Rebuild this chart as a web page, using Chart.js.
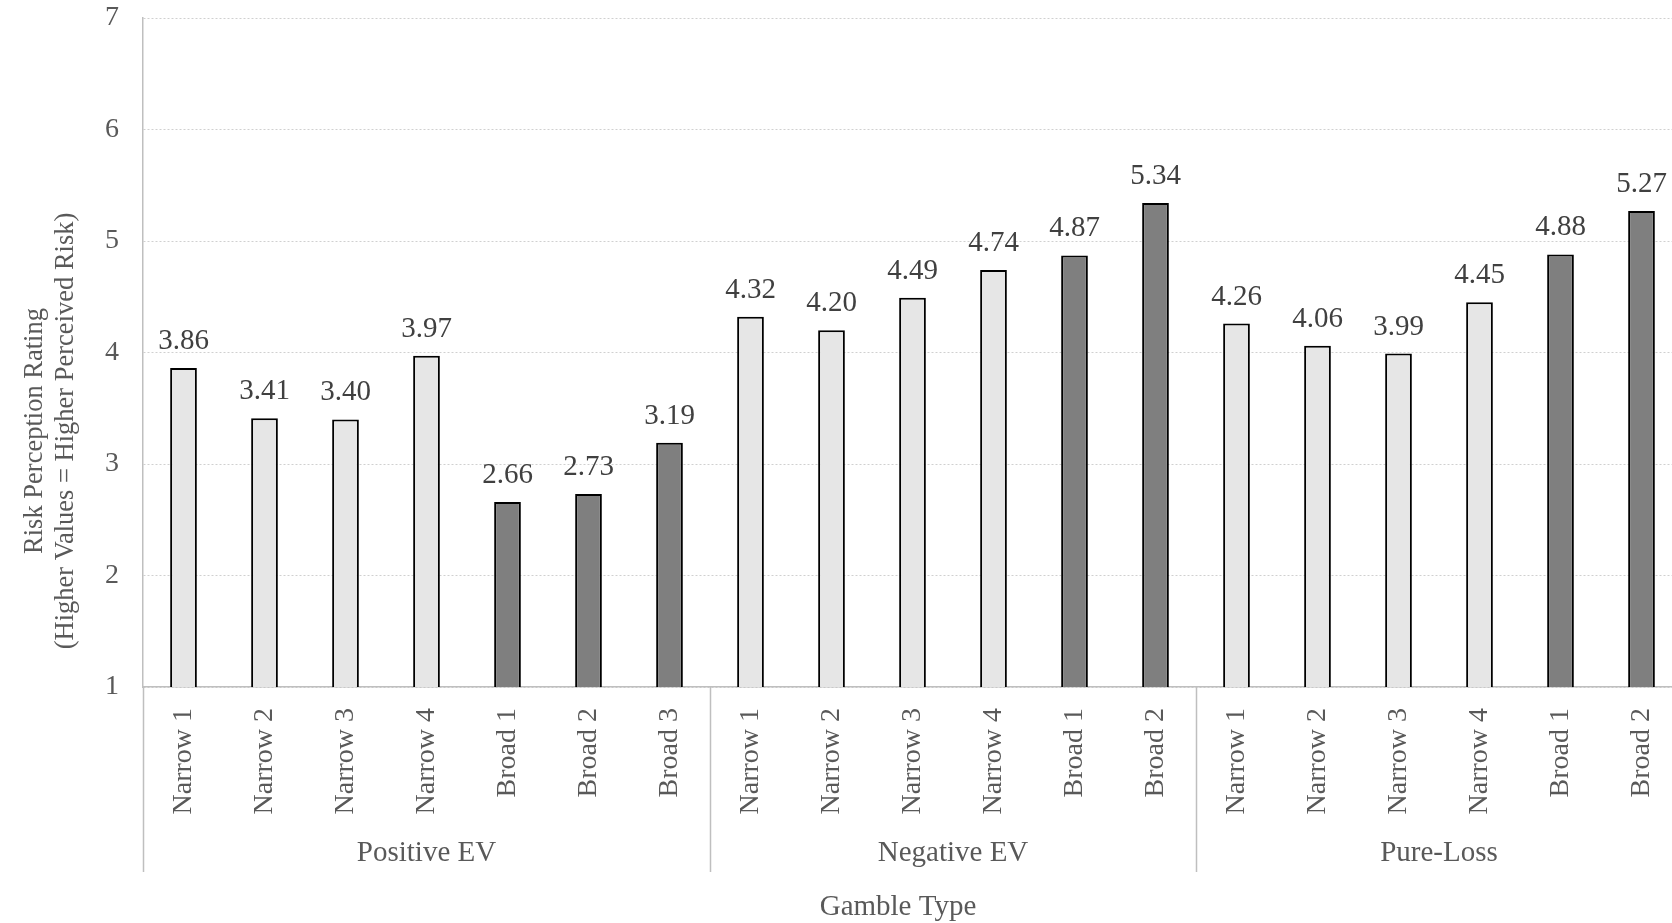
<!DOCTYPE html>
<html>
<head>
<meta charset="utf-8">
<script src="https://cdn.jsdelivr.net/npm/chart.js@4"></script>
<style>
  html, body { margin: 0; padding: 0; background: #fff; overflow: hidden; }
  #wrap { width: 1672px; height: 923px; overflow: hidden; position: relative; }
  canvas { display: block; }
</style>
</head>
<body>
<div id="wrap"><canvas id="c" width="1700" height="923"></canvas></div>
<script>
// ---- data ----
const groupNames = ['Positive EV', 'Negative EV', 'Pure-Loss'];
const positiveLabels = ['Narrow 1', 'Narrow 2', 'Narrow 3', 'Narrow 4', 'Broad 1', 'Broad 2', 'Broad 3'];
const negativeLabels = ['Narrow 1', 'Narrow 2', 'Narrow 3', 'Narrow 4', 'Broad 1', 'Broad 2'];
const pureLossLabels = ['Narrow 1', 'Narrow 2', 'Narrow 3', 'Narrow 4', 'Broad 1', 'Broad 2'];
const positiveValues = [3.86, 3.41, 3.40, 3.97, 2.66, 2.73, 3.19];
const negativeValues = [4.32, 4.20, 4.49, 4.74, 4.87, 5.34];
const pureLossValues = [4.26, 4.06, 3.99, 4.45, 4.88, 5.27];
const yTicks = [1, 2, 3, 4, 5, 6, 7];
const yTitleLines = ['Risk Perception Rating', '(Higher Values = Higher Perceived Risk)'];
const xTitle = 'Gamble Type';

// ---- build ----
const groupLabelSets = [positiveLabels, negativeLabels, pureLossLabels];
const categories = [].concat(positiveLabels, negativeLabels, pureLossLabels);
const values = [].concat(positiveValues, negativeValues, pureLossValues);
const groupSizes = groupLabelSets.map(a => a.length);

const LIGHT = '#e6e6e6';
const DARK = '#7f7f7f';
const SERIF = '"Liberation Serif", "Times New Roman", serif';
const TEXT = '#595959';

const colors = categories.map(c => c.startsWith('Broad') ? DARK : LIGHT);

const decorPlugin = {
  id: 'decor',
  afterDatasetsDraw(chart) {
    const ctx = chart.ctx;
    const area = chart.chartArea;
    const xs = chart.scales.x;
    const meta = chart.getDatasetMeta(0);

    // value labels
    ctx.save();
    ctx.font = '29px ' + SERIF;
    ctx.fillStyle = '#404040';
    ctx.textAlign = 'center';
    ctx.textBaseline = 'alphabetic';
    meta.data.forEach((bar, i) => {
      ctx.fillText(values[i].toFixed(2), bar.x, bar.y - 19);
    });
    ctx.restore();

    // group separators and group labels
    ctx.save();
    ctx.strokeStyle = '#bfbfbf';
    ctx.lineWidth = 1.5;
    const sepBottom = 872;
    let start = 0;
    const bounds = [area.left];
    groupSizes.forEach((n) => {
      const end = start + n - 1;
      let rightX;
      if (end + 1 < categories.length) {
        rightX = (xs.getPixelForValue(end) + xs.getPixelForValue(end + 1)) / 2;
      } else {
        rightX = area.right;
      }
      bounds.push(rightX);
      start += n;
    });
    bounds.slice(0, bounds.length - 1).forEach(x => {
      ctx.beginPath();
      ctx.moveTo(Math.round(x) + 0.5, area.bottom);
      ctx.lineTo(Math.round(x) + 0.5, sepBottom);
      ctx.stroke();
    });
    ctx.font = '29px ' + SERIF;
    ctx.fillStyle = TEXT;
    ctx.textAlign = 'center';
    ctx.textBaseline = 'middle';
    groupNames.forEach((name, g) => {
      ctx.fillText(name, (bounds[g] + bounds[g + 1]) / 2, 853);
    });

    // x title
    ctx.fillText(xTitle, 898, 907);

    // y title (two rotated lines)
    ctx.font = '26.5px ' + SERIF;
    ctx.translate(0, 431);
    ctx.rotate(-Math.PI / 2);
    ctx.fillText(yTitleLines[0], 0, 35);
    ctx.fillText(yTitleLines[1], 0, 66);
    ctx.restore();
  }
};

new Chart(document.getElementById('c'), {
  type: 'bar',
  data: {
    labels: categories,
    datasets: [{
      data: values,
      backgroundColor: colors,
      borderColor: '#000000',
      borderWidth: 2,
      barPercentage: 0.33,
      categoryPercentage: 1.0
    }]
  },
  options: {
    responsive: false,
    animation: false,
    layout: { padding: { top: 18, right: 18, left: 0, bottom: 0 } },
    plugins: {
      legend: { display: false },
      tooltip: { enabled: false },
      title: { display: false }
    },
    scales: {
      x: {
        offset: true,
        grid: { display: false, drawTicks: false },
        border: { display: true, color: '#bfbfbf', width: 1.5 },
        ticks: {
          autoSkip: false,
          minRotation: 90,
          maxRotation: 90,
          padding: 21,
          color: TEXT,
          font: { family: SERIF, size: 28 }
        },
        afterFit(scale) { scale.height = 236; scale.paddingLeft = 0; scale.paddingRight = 0; }
      },
      y: {
        min: yTicks[0],
        max: yTicks[yTicks.length - 1],
        afterBuildTicks(scale) { scale.ticks = yTicks.map(v => ({ value: v })); },
        grid: { color: '#d0d0d0', lineWidth: 1, drawTicks: false },
        border: { display: true, color: '#bfbfbf', width: 1.5, dash: [2, 2] },
        ticks: {
          padding: 24,
          color: TEXT,
          font: { family: SERIF, size: 28 }
        },
        afterFit(scale) { scale.width = 143; scale.paddingTop = 0; scale.paddingBottom = 0; }
      }
    }
  },
  plugins: [decorPlugin]
});
</script>
</body>
</html>
